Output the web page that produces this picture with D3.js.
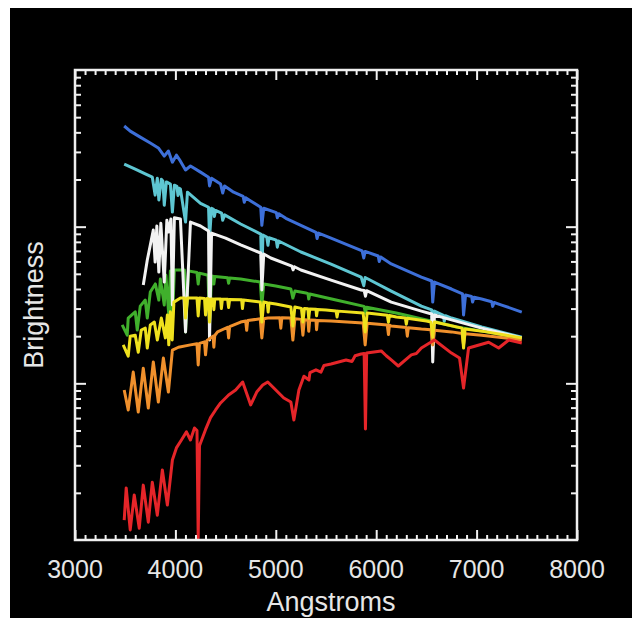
<!DOCTYPE html>
<html>
<head>
<meta charset="utf-8">
<script src="https://cdn.jsdelivr.net/npm/d3@7"></script>
<style>
  body { margin: 0; background: #fff; }
  text { font-family: "Liberation Sans", Arial, Helvetica, sans-serif; fill: #e6e6e6; }
</style>
</head>
<body>
<div id="chart"></div>
<script>
// spectra, [wavelength in Angstroms, brightness]
var blueSpec = [[3490,43.9],[3550,40.7],[3650,37.3],[3750,34.2],[3830,31.8],[3889,28.2],[3930,30.4],[3970,25.8],[4010,28.6],[4050,26.2],[4101,23.0],[4150,24.4],[4250,22.3],[4330,20.7],[4340,18.2],[4360,20.4],[4450,18.7],[4471,16.4],[4490,18.2],[4580,16.6],[4675,15.6],[4686,14.3],[4700,15.3],[4750,14.6],[4850,13.3],[4861,10.2],[4880,13.1],[5005,12.3],[5015,11.4],[5030,12.1],[5100,11.3],[5250,10.2],[5400,9.2],[5411,8.4],[5425,9.1],[5550,8.46],[5860,7.0],[5876,6.31],[5890,6.95],[6020,6.5],[6030,6.0],[6045,6.4],[6150,5.78],[6450,4.77],[6553,4.50],[6563,3.30],[6580,4.43],[6750,4.0],[6860,3.72],[6870,2.73],[6890,3.66],[6950,3.58],[6960,3.3],[6975,3.54],[7050,3.45],[7150,3.32],[7160,3.1],[7175,3.28],[7250,3.16],[7450,2.85]];

var cyanSpec = [[3490,25.1],[3600,23.3],[3700,21.7],[3770,20.7],[3798,15.9],[3820,20.4],[3835,14.8],[3860,20.1],[3875,19.6],[3889,13.7],[3910,19.3],[3950,18.7],[3970,12.4],[3990,18.4],[4015,18.1],[4026,15.8],[4038,17.6],[4050,17.4],[4101,10.7],[4120,16.6],[4250,14.1],[4330,13.3],[4340,8.46],[4360,13.1],[4380,12.9],[4388,11.6],[4400,12.7],[4460,12.2],[4471,11.0],[4490,11.9],[4650,10.4],[4850,8.97],[4861,4.91],[4872,8.84],[4910,8.59],[4922,7.6],[4932,8.5],[5005,8.2],[5015,7.4],[5028,8.1],[5250,6.89],[5550,5.77],[5850,4.77],[5876,4.2],[5890,4.74],[6150,3.88],[6450,3.11],[6553,2.94],[6563,2.36],[6580,2.89],[6670,2.72],[6678,2.48],[6690,2.70],[6750,2.61],[7050,2.29],[7450,1.97]];

var whiteSpec = [[3680,4.24],[3720,6.12],[3760,8.22],[3780,9.51],[3798,5.94],[3815,10.1],[3835,5.13],[3855,10.5],[3889,4.43],[3915,11.0],[3934,9.24],[3955,11.2],[3970,3.16],[3990,11.4],[4050,11.2],[4101,2.13],[4150,10.7],[4250,10.1],[4330,9.38],[4340,1.89],[4360,9.1],[4500,8.46],[4650,7.64],[4850,6.79],[4861,3.94],[4880,6.69],[4950,6.31],[5160,5.6],[5172,5.3],[5185,5.55],[5250,5.29],[5550,4.56],[5850,3.94],[5880,3.92],[5893,3.6],[5905,3.9],[6150,3.30],[6450,2.89],[6553,2.77],[6563,1.37],[6580,2.73],[6750,2.54],[7050,2.25],[7450,1.95]];

var greenSpec = [[3470,2.36],[3520,2.03],[3530,2.61],[3600,2.86],[3620,2.19],[3650,3.11],[3700,3.40],[3720,2.61],[3750,3.83],[3800,4.31],[3835,3.40],[3850,4.63],[3889,3.16],[3905,4.91],[3934,2.73],[3950,5.22],[3970,2.46],[3990,5.29],[4090,5.28],[4101,2.13],[4130,5.22],[4215,5.1],[4227,4.3],[4240,5.05],[4325,4.9],[4340,2.36],[4360,4.84],[4375,4.82],[4383,4.3],[4392,4.8],[4520,4.72],[4530,4.35],[4540,4.7],[4650,4.63],[4845,4.43],[4861,3.16],[4880,4.30],[5000,4.18],[5150,4.0],[5170,3.5],[5190,3.88],[5300,3.77],[5320,3.74],[5328,3.45],[5338,3.72],[5600,3.40],[5880,3.1],[5893,2.8],[5905,3.06],[6200,2.81],[6500,2.54],[6550,2.5],[6563,2.15],[6576,2.48],[6800,2.29],[7100,2.13],[7450,1.95]];

var yellowSpec = [[3480,1.76],[3530,1.49],[3550,2.0],[3600,2.03],[3630,1.58],[3660,2.19],[3700,2.25],[3720,1.68],[3750,2.36],[3790,2.46],[3820,1.89],[3860,2.61],[3900,1.95],[3920,2.73],[3934,1.76],[3950,2.86],[3968,1.89],[3985,3.30],[4050,3.50],[4090,3.5],[4101,2.61],[4120,3.50],[4215,3.5],[4227,2.69],[4240,3.5],[4290,3.48],[4300,2.73],[4315,3.48],[4330,3.47],[4340,2.46],[4355,3.46],[4375,3.46],[4383,2.95],[4392,3.45],[4450,3.45],[4458,3.0],[4468,3.44],[4520,3.44],[4530,3.05],[4540,3.43],[4660,3.41],[4668,3.0],[4678,3.4],[4845,3.3],[4861,2.46],[4880,3.3],[4915,3.27],[4924,2.85],[4933,3.26],[5000,3.21],[5150,3.07],[5170,2.32],[5190,3.07],[5255,3.01],[5270,2.46],[5285,3.0],[5320,2.99],[5328,2.6],[5338,2.98],[5400,2.97],[5406,2.7],[5415,2.96],[5500,2.94],[5600,2.9],[5610,2.65],[5620,2.89],[5870,2.81],[5890,2.13],[5910,2.81],[6110,2.72],[6122,2.45],[6132,2.71],[6200,2.65],[6290,2.61],[6300,2.38],[6310,2.6],[6500,2.50],[6545,2.46],[6563,1.97],[6580,2.46],[6855,2.25],[6870,1.68],[6885,2.22],[7100,2.13],[7450,1.95]];

var orangeSpec = [[3490,0.906],[3530,0.676],[3580,1.18],[3630,0.656],[3680,1.25],[3730,0.696],[3780,1.37],[3830,0.760],[3880,1.45],[3930,0.880],[3970,1.63],[4030,1.70],[4150,1.76],[4215,1.79],[4227,1.31],[4240,1.80],[4290,1.84],[4300,1.52],[4315,1.88],[4375,2.0],[4383,1.7],[4392,2.02],[4420,2.13],[4520,2.28],[4530,1.95],[4540,2.3],[4650,2.46],[4700,2.5],[4710,2.18],[4720,2.52],[4845,2.58],[4861,1.95],[4880,2.58],[4920,2.61],[5040,2.62],[5050,2.25],[5060,2.62],[5150,2.61],[5170,1.89],[5190,2.58],[5255,2.56],[5270,2.03],[5285,2.55],[5320,2.54],[5328,2.15],[5338,2.54],[5400,2.53],[5406,2.2],[5415,2.52],[5550,2.50],[5870,2.43],[5890,1.76],[5910,2.42],[6110,2.36],[6122,2.05],[6132,2.35],[6150,2.32],[6300,2.27],[6310,2.0],[6320,2.26],[6450,2.22],[6545,2.2],[6563,1.76],[6580,2.18],[6750,2.13],[6855,2.08],[6870,1.76],[6885,2.07],[7050,2.03],[7450,1.89]];

var redSpec = [[3490,0.134],[3510,0.215],[3550,0.116],[3590,0.194],[3640,0.119],[3680,0.224],[3730,0.130],[3770,0.234],[3820,0.144],[3870,0.280],[3920,0.167],[3970,0.324],[4010,0.387],[4060,0.435],[4110,0.490],[4150,0.435],[4190,0.519],[4215,0.50],[4227,0.103],[4240,0.40],[4300,0.506],[4350,0.604],[4400,0.676],[4450,0.749],[4530,0.842],[4600,0.906],[4670,1.02],[4750,0.728],[4810,0.880],[4870,0.975],[4920,1.02],[5000,0.906],[5080,0.806],[5150,0.760],[5180,0.583],[5230,0.906],[5280,1.11],[5330,1.05],[5340,1.17],[5400,1.22],[5450,1.18],[5480,1.3],[5550,1.33],[5700,1.41],[5760,1.38],[5790,1.5],[5850,1.54],[5880,1.55],[5893,0.511],[5905,1.56],[6050,1.61],[6100,1.5],[6150,1.41],[6220,1.29],[6350,1.52],[6400,1.55],[6450,1.68],[6580,1.89],[6750,1.56],[6830,1.45],[6870,0.933],[6920,1.68],[7120,1.83],[7220,1.68],[7320,1.89],[7450,1.81]];

var spectra = [
    { data: blueSpec, color: "#3d6fd8" },
    { data: cyanSpec, color: "#5ec6d2" },
    { data: greenSpec, color: "#40b02c" },
    { data: whiteSpec, color: "#f2f2f2" },
    { data: orangeSpec, color: "#f0902c" },
    { data: yellowSpec, color: "#efe11e" },
    { data: redSpec, color: "#e52529" }
];

var xMajor = [3000, 4000, 5000, 6000, 7000, 8000];
var xLabels = ["3000", "4000", "5000", "6000", "7000", "8000"];
var yMajor = [1, 10];

const w = 640;
const h = 624;
const padL = 75, padR = 577, padT = 70, padB = 540;

const svg = d3.select("#chart")
    .append("svg")
    .attr("width", w)
    .attr("height", h);

svg.append("rect")
    .attr("x", 10).attr("y", 8)
    .attr("width", 622).attr("height", 610)
    .attr("fill", "#000");

const xScale = d3.scaleLinear()
    .domain([3000, 8000])
    .range([padL, padR]);

const yScale = d3.scaleLog()
    .domain([0.1, 100])
    .range([padB, padT]);

const line = d3.line()
    .x((d) => xScale(d[0]))
    .y((d) => yScale(d[1]));

svg.selectAll("path.spec")
    .data(spectra)
    .enter()
    .append("path")
    .attr("class", "spec")
    .attr("d", (d) => line(d.data))
    .attr("fill", "none")
    .attr("stroke", (d) => d.color)
    .attr("stroke-width", 3)
    .attr("stroke-linejoin", "round");

// tick marks, all pointing inward
var xMinor = d3.range(3100, 8000, 100).filter((v) => v % 1000 !== 0);
var yAll = yScale.ticks().filter((v) => v > 0.1 && v < 100);
var yMinor = yAll.filter((v) => yMajor.indexOf(v) < 0);

function drawTicks(axis, values, size, transform) {
    var g = svg.append("g")
        .attr("transform", transform)
        .call(axis.tickValues(values).tickSize(-size).tickSizeOuter(0).tickFormat(""));
    g.select(".domain").remove();
    g.selectAll(".tick line").attr("stroke", "#f0f0f0").attr("stroke-width", 2);
}

drawTicks(d3.axisBottom(xScale), xMinor, 5, "translate(0," + padB + ")");
drawTicks(d3.axisBottom(xScale), xMajor, 10, "translate(0," + padB + ")");
drawTicks(d3.axisTop(xScale), xMinor, 5, "translate(0," + padT + ")");
drawTicks(d3.axisTop(xScale), xMajor, 10, "translate(0," + padT + ")");
drawTicks(d3.axisLeft(yScale), yMinor, 6, "translate(" + padL + ",0)");
drawTicks(d3.axisLeft(yScale), yMajor, 11, "translate(" + padL + ",0)");
drawTicks(d3.axisRight(yScale), yMinor, 6, "translate(" + padR + ",0)");
drawTicks(d3.axisRight(yScale), yMajor, 11, "translate(" + padR + ",0)");

// frame
svg.append("rect")
    .attr("x", padL).attr("y", padT)
    .attr("width", padR - padL).attr("height", padB - padT)
    .attr("fill", "none")
    .attr("stroke", "#f0f0f0")
    .attr("stroke-width", 2.5);

// tick labels
svg.selectAll("text.xlab")
    .data(xMajor)
    .enter()
    .append("text")
    .attr("class", "xlab")
    .attr("x", (d) => xScale(d))
    .attr("y", 578)
    .attr("text-anchor", "middle")
    .style("font-size", "25px")
    .text((d, i) => xLabels[i]);

svg.append("text")
    .attr("x", 331)
    .attr("y", 611)
    .attr("text-anchor", "middle")
    .style("font-size", "27px")
    .text("Angstroms");

svg.append("text")
    .attr("transform", "translate(43,305) rotate(-90)")
    .attr("text-anchor", "middle")
    .style("font-size", "27px")
    .text("Brightness");
</script>
</body>
</html>
